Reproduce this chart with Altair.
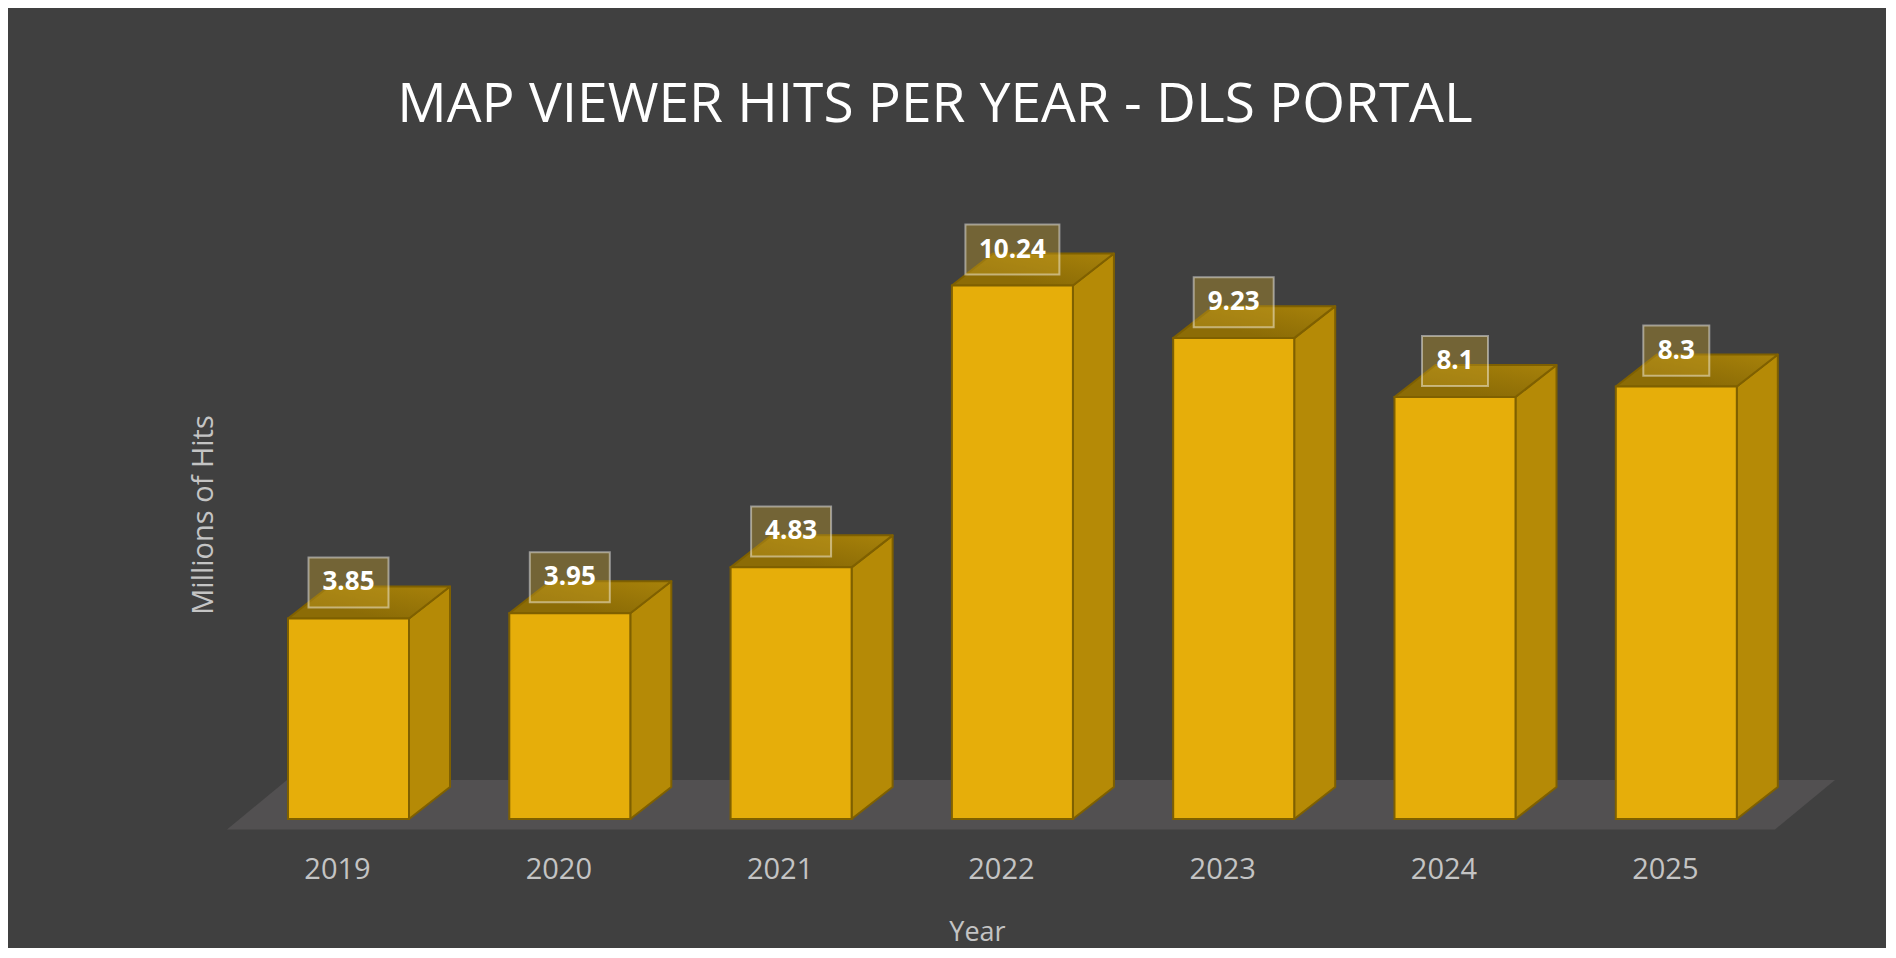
import json
import altair as alt
import pandas as pd

# ---------------- data ----------------
years = ["2019", "2020", "2021", "2022", "2023", "2024", "2025"]
hits = [3.85, 3.95, 4.83, 10.24, 9.23, 8.1, 8.3]
hit_labels = ["3.85", "3.95", "4.83", "10.24", "9.23", "8.1", "8.3"]

TITLE = "MAP VIEWER HITS PER YEAR - DLS PORTAL"
Y_TITLE = "Millions of Hits"
X_TITLE = "Year"

# ---------------- style / geometry constants ----------------
FONT = "Open Sans"
BG = "#404040"
FRONT = "#E6AE0A"
SIDE = "#B58A06"
TOP = "#9E7A08"
EDGE = "#7F6000"
FLOOR = "#525051"
AXIS_GREY = "#C4C4C4"

HALF = 0.2734      # half of a bar's front width (category units)
DX = 0.1853        # depth offset along x (category units)
DY = 0.614         # depth offset along y (value units)
FLOOR_FRONT = -0.2015
FLOOR_BACK = 0.749
FLOOR_DX = 0.271
FLOOR_LEFT_EXT = 0.2756
FLOOR_RIGHT_EXT = 0.1726
LABEL_RAISE = 0.69
LABEL_HALF_H = 0.48

# ---------------- build tables from the arrays ----------------
front_rows, side_rows, top_rows, box_rows = [], [], [], []
for i, (yr, v, lab) in enumerate(zip(years, hits, hit_labels)):
    L, R = i - HALF, i + HALF
    front_rows.append(dict(year=yr, x=L, x2=R, y=0.0, y2=v))
    side_rows += [
        dict(year=yr, x=R, y=0.0, y2=v),
        dict(year=yr, x=R + DX, y=DY, y2=v + DY),
    ]
    top_rows += [
        dict(year=yr, x=L, y=v, y2=v),
        dict(year=yr, x=L + DX, y=v, y2=v + DY),
        dict(year=yr, x=R, y=v, y2=v + DY),
        dict(year=yr, x=R + DX, y=v + DY, y2=v + DY),
    ]
    half_w = (14 * len(lab) + 24) / 2 / 221.3
    box_rows.append(dict(year=yr, label=lab, xc=float(i),
                         x=i - half_w, x2=i + half_w,
                         yc=v + LABEL_RAISE,
                         y=v + LABEL_RAISE - LABEL_HALF_H,
                         y2=v + LABEL_RAISE + LABEL_HALF_H))

n = len(years)
fl = -HALF - FLOOR_LEFT_EXT
fr = (n - 1) + HALF + FLOOR_RIGHT_EXT
floor_rows = [
    dict(year="floor", x=fl, y=FLOOR_FRONT, y2=FLOOR_FRONT),
    dict(year="floor", x=fl + FLOOR_DX, y=FLOOR_FRONT, y2=FLOOR_BACK),
    dict(year="floor", x=fr, y=FLOOR_FRONT, y2=FLOOR_BACK),
    dict(year="floor", x=fr + FLOOR_DX, y=FLOOR_BACK, y2=FLOOR_BACK),
]

front_df = pd.DataFrame(front_rows)
side_df = pd.DataFrame(side_rows)
top_df = pd.DataFrame(top_rows)
box_df = pd.DataFrame(box_rows)
floor_df = pd.DataFrame(floor_rows)

# ---------------- scales & axes ----------------
PX_PER_CAT = 221.3
PX_PER_VAL = 52.1
W, H = 1700, 710
x_dom = [-(348.5 - 180) / PX_PER_CAT, (1880 - 348.5) / PX_PER_CAT]
y_dom = [-(840 - 819) / PX_PER_VAL, (819 - 130) / PX_PER_VAL]

xscale = alt.Scale(domain=x_dom, nice=False, zero=False)
yscale = alt.Scale(domain=y_dom, nice=False, zero=False)

label_expr = json.dumps(years) + "[round(datum.value)]"

xaxis = alt.Axis(
    values=list(range(n)), labelExpr=label_expr, title=X_TITLE,
    domain=False, ticks=False, tickSize=0, grid=False,
    labelFont=FONT, labelFontSize=29, labelColor=AXIS_GREY,
    labelPadding=29, labelBaseline="middle", labelOffset=-11.5,
    labelFlush=False, labelOverlap=False,
    titleFont=FONT, titleFontSize=27, titleFontWeight="normal",
    titleColor=AXIS_GREY, titleX=797, titleY=100,
    titleAlign="center", titleBaseline="alphabetic",
)
yaxis = alt.Axis(
    labels=False, domain=False, ticks=False, grid=False, title=Y_TITLE,
    titleFont=FONT, titleFontSize=29, titleFontWeight="normal",
    titleColor=AXIS_GREY, titleAngle=270, titleX=23, titleY=384.5,
    titleAlign="center", titleBaseline="middle",
)

X = alt.X("x:Q", scale=xscale, axis=xaxis)
Y = alt.Y("y:Q", scale=yscale, axis=yaxis)

floor = alt.Chart(floor_df).mark_area(
    fill=FLOOR, orient="vertical", interpolate="linear"
).encode(x=X, y=Y, y2=alt.Y2("y2:Q"), detail="year:N")

side = alt.Chart(side_df).mark_area(
    fill=SIDE, stroke=EDGE, strokeWidth=2, orient="vertical",
    interpolate="linear", strokeJoin="round"
).encode(x=X, y=Y, y2=alt.Y2("y2:Q"), detail="year:N")

top = alt.Chart(top_df).mark_area(
    fill=alt.Gradient(
        gradient="linear", x1=0, x2=1, y1=1, y2=0,
        stops=[alt.GradientStop(color="#8C6C06", offset=0.3),
               alt.GradientStop(color="#A8820A", offset=1)],
    ),
    stroke=EDGE, strokeWidth=2, orient="vertical",
    interpolate="linear", strokeJoin="round"
).encode(x=X, y=Y, y2=alt.Y2("y2:Q"), detail="year:N")

front = alt.Chart(front_df).mark_rect(
    fill=FRONT, stroke=EDGE, strokeWidth=2
).encode(x=X, x2=alt.X2("x2:Q"), y=Y, y2=alt.Y2("y2:Q"))

boxes = alt.Chart(box_df).mark_rect(
    fill="#C8A028", fillOpacity=0.38, stroke="#FFFFFF",
    strokeOpacity=0.45, strokeWidth=2
).encode(x=X, x2=alt.X2("x2:Q"), y=Y, y2=alt.Y2("y2:Q"))

texts = alt.Chart(box_df).mark_text(
    font=FONT, fontSize=26, fontWeight="bold", color="white",
    align="center", baseline="middle"
).encode(
    x=alt.X("xc:Q", scale=xscale, axis=xaxis),
    y=alt.Y("yc:Q", scale=yscale, axis=yaxis),
    text="label:N",
)

chart = alt.layer(floor, side, top, front, boxes, texts).properties(
    width=W, height=H,
    title=alt.TitleParams(
        TITLE, font=FONT, fontSize=55, fontWeight="normal", color="white",
        anchor="middle", dx=-95, dy=54, offset=7, baseline="alphabetic",
    ),
    autosize=alt.AutoSizeParams(type="none"),
    padding={"left": 172, "top": 122, "right": 6, "bottom": 108},
).configure(background=BG).configure_view(stroke=None)

chart.save("out.html", embed_options={"renderer": "svg", "actions": False})
